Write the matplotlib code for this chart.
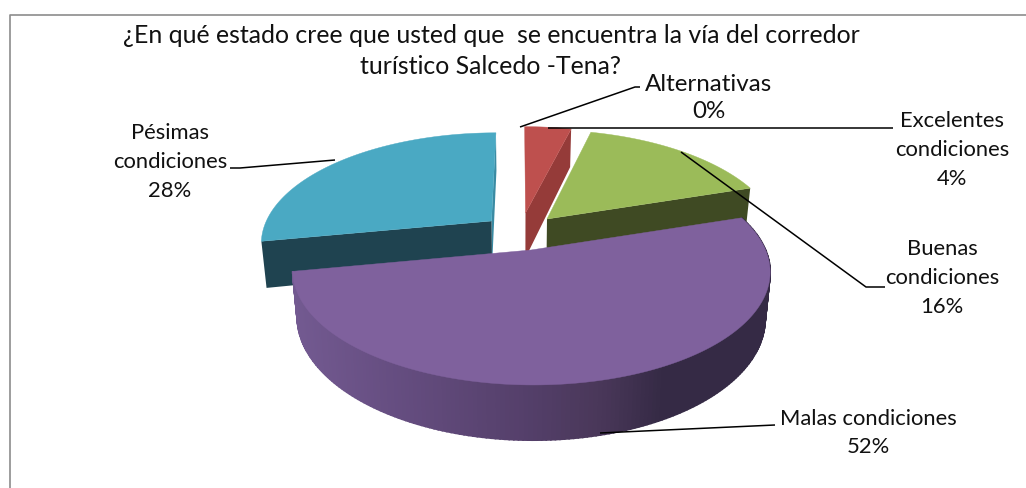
# -*- coding: utf-8 -*-
import numpy as np
import matplotlib
matplotlib.use('Agg')
import matplotlib.pyplot as plt

plt.rcParams['font.family'] = ['Lato', 'DejaVu Sans']

titulo = '¿En qué estado cree que usted que  se encuentra la vía del corredor\nturístico Salcedo -Tena?'
categorias = ['Alternativas', 'Excelentes\ncondiciones', 'Buenas\ncondiciones', 'Malas condiciones', 'Pésimas\ncondiciones']
valores = [0, 4, 16, 52, 28]

# estilo de cada porcion
color_top = ['#000000', '#BE504E', '#9BBB59', '#7F619D', '#4AA9C3']
color_lado = ['#000000', '#953B39', '#3F4A23', '#352A45', '#1F4350']
centro_x = [520, 525.5, 547, 531, 491.5]
centro_y = [128, 213, 219, 250, 221]
escala = [1, 0.93, 0.96, 0.99, 0.95]

# posicion de etiquetas y guias (pixeles)
etiqueta_xy = [(709, 98), (952, 150), (942, 278), (868, 433), (170, 162)]
guias = [[(520, 127), (635, 87), (640, 87)],
         [(548, 128), (893, 128)],
         [(681, 152), (866, 287), (885, 287)],
         [(600, 433), (775, 425)],
         [(335, 160), (240, 168), (230, 168)]]

A, B, K = 237, 110, 0.185
VX = 520
ALTO = 45


def punto(ang, i, r=1.0):
    # ang en grados, horario desde arriba; perspectiva simple
    t = np.radians(ang)
    u, v = r * np.sin(t), r * np.cos(t)
    s = 1 / (1 + K * v)
    x = centro_x[i] + s * A * escala[i] * u + (VX - centro_x[i]) * (1 - s)
    y = centro_y[i] - s * B * (1 if i == 3 else escala[i]) * v
    return x, y


def baja(x, y, ang, i, r=1.0):
    v = r * np.cos(np.radians(ang))
    s = 1 / (1 + K * v)
    return VX + (x - VX) * 0.98, y + ALTO * s


def lado_color(x):
    xs = [296, 400, 520, 600, 660, 770]
    rs = ['#735A91', '#654D80', '#55406B', '#493759', '#352A45', '#352A45']
    c = np.array([matplotlib.colors.to_rgb(k) for k in rs])
    return tuple(np.interp(x, xs, c[:, n]) for n in range(3))


fig = plt.figure(figsize=(10.26, 4.88), dpi=100)
ax = fig.add_axes([0, 0, 1, 1])
ax.set_xlim(0, 1026)
ax.set_ylim(488, 0)
ax.axis('off')

# marco
ax.plot([9.5, 9.5, 1026], [488, 15, 15], color='#8C8C8C', lw=1.2, zorder=1)

limites = np.cumsum(valores) / np.sum(valores) * 360
inicio = np.concatenate(([0], limites[:-1]))
orden = [1, 2, 4, 3]
for n, i in enumerate(orden):
    a0, a1 = inicio[i], limites[i]
    zb = 2 + n * 3
    angs = np.linspace(a0, a1, 200)
    # pared exterior
    if i == 3:
        for p, q in zip(angs[:-1], angs[1:]):
            x0, y0 = punto(p, i)
            x1, y1 = punto(q, i)
            x2, y2 = baja(x1, y1, q, i)
            x3, y3 = baja(x0, y0, p, i)
            c = lado_color((x2 + x3) / 2)
            ax.fill([x0, x1, x2, x3], [y0, y1, y2, y3], facecolor=c, edgecolor=c, lw=1.2, zorder=zb)
    # caras de corte
    if i == 4:
        # lado trasero, casi de perfil
        xa, ya = punto(a1, i)
        xb, yb = baja(centro_x[i], centro_y[i], a1, i, 0)
        ax.fill([centro_x[i], xa, baja(xa, ya, a1, i)[0], xb], [centro_y[i], ya, baja(xa, ya, a1, i)[1], yb],
                color='#3A8BA3', lw=0, zorder=zb)
    ang_corte = a1 if i == 1 else a0
    if i in (1, 2, 4):
        if i == 2:
            ang_corte = a1
        xa, ya = punto(ang_corte, i)
        xa2, ya2 = baja(xa, ya, ang_corte, i)
        xc2, yc2 = baja(centro_x[i], centro_y[i], ang_corte, i, 0)
        ax.fill([centro_x[i], xa, xa2, xc2], [centro_y[i], ya, ya2, yc2],
                color=color_lado[i], lw=0, zorder=zb + 1)
    # cara superior
    xs, ys = punto(angs, i)
    ax.fill(np.r_[centro_x[i], xs], np.r_[centro_y[i], ys], color=color_top[i], lw=0.3, zorder=zb + 2)

# guias y etiquetas
for i in range(len(valores)):
    gx = [g[0] for g in guias[i]]
    gy = [g[1] for g in guias[i]]
    ax.plot(gx, gy, color='black', lw=1.1, zorder=20, solid_capstyle='butt')
    tam = 17.4 if i == 0 else 15.8
    ax.text(etiqueta_xy[i][0], etiqueta_xy[i][1], categorias[i] + '\n%d%%' % valores[i], ha='center', va='center',
            fontsize=tam, color='#111111', linespacing=1.4 if i == 0 else 1.55, zorder=21)

ax.text(491, 51, titulo, ha='center', va='center', fontsize=17.9, color='#111111', linespacing=1.37, zorder=21)

fig.savefig('out.png', dpi=100)
